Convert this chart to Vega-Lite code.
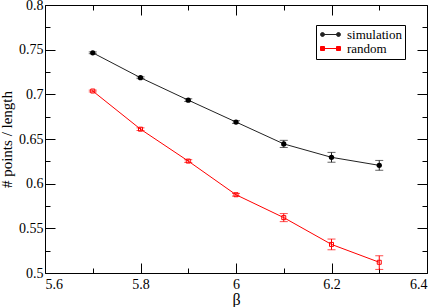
{
  "$schema": "https://vega.github.io/schema/vega-lite/v6.json",
  "width": 382,
  "height": 268,
  "autosize": "none",
  "padding": {"left": 45, "top": 5, "right": 9, "bottom": 34},
  "background": "white",
  "config": {
    "view": {"stroke": "black", "strokeWidth": 1},
    "font": "Liberation Serif",
    "axis": {"domain": false, "grid": false, "labelColor": "black", "tickColor": "black", "titleColor": "black", "titleFontWeight": "normal"}
  },
  "data": {
    "values": [
      {"series": "simulation", "beta": 5.7, "value": 0.7465, "lo": 0.7455, "hi": 0.7475},
      {"series": "simulation", "beta": 5.8, "value": 0.7186, "lo": 0.7176, "hi": 0.7196},
      {"series": "simulation", "beta": 5.9, "value": 0.6935, "lo": 0.692, "hi": 0.695},
      {"series": "simulation", "beta": 6.0, "value": 0.669, "lo": 0.6675, "hi": 0.6705},
      {"series": "simulation", "beta": 6.1, "value": 0.6445, "lo": 0.6405, "hi": 0.6485},
      {"series": "simulation", "beta": 6.2, "value": 0.6295, "lo": 0.624, "hi": 0.635},
      {"series": "simulation", "beta": 6.3, "value": 0.6205, "lo": 0.615, "hi": 0.626},
      {"series": "random", "beta": 5.7, "value": 0.7037, "lo": 0.7027, "hi": 0.7047},
      {"series": "random", "beta": 5.8, "value": 0.661, "lo": 0.6595, "hi": 0.6625},
      {"series": "random", "beta": 5.9, "value": 0.6253, "lo": 0.6238, "hi": 0.6268},
      {"series": "random", "beta": 6.0, "value": 0.5876, "lo": 0.5861, "hi": 0.5891},
      {"series": "random", "beta": 6.1, "value": 0.562, "lo": 0.5575, "hi": 0.5665},
      {"series": "random", "beta": 6.2, "value": 0.532, "lo": 0.526, "hi": 0.538},
      {"series": "random", "beta": 6.3, "value": 0.512, "lo": 0.504, "hi": 0.5193}
    ]
  },
  "resolve": {"axis": {"x": "independent", "y": "independent"}},
  "layer": [
    {
      "mark": {"type": "line", "strokeWidth": 1},
      "encoding": {
        "x": {"field": "beta", "type": "quantitative", "scale": {"domain": [5.6, 6.4], "nice": false, "zero": false},
          "axis": {"orient": "bottom", "title": "β", "titleFont": "Liberation Serif", "titleFontSize": 16, "titlePadding": 0,
            "labelFont": "Liberation Serif", "labelFontSize": 14,
            "values": [5.6, 5.7, 5.8, 5.9, 6.0, 6.1, 6.2, 6.3, 6.4],
            "tickSize": {"condition": {"test": "abs(datum.value*5 - round(datum.value*5)) > 0.1", "value": -5}, "value": -10},
            "labelPadding": 14,
            "labelExpr": "abs(datum.value*5 - round(datum.value*5)) > 0.1 ? '' : format(datum.value, '~g')"}},
        "y": {"field": "value", "type": "quantitative", "scale": {"domain": [0.5, 0.8], "nice": false, "zero": false},
          "axis": {"orient": "left", "title": "# points / length", "titleFont": "Liberation Serif", "titleFontSize": 15, "titlePadding": 4,
            "labelFont": "Liberation Serif", "labelFontSize": 14,
            "values": [0.5, 0.525, 0.55, 0.575, 0.6, 0.625, 0.65, 0.675, 0.7, 0.725, 0.75, 0.775, 0.8],
            "tickSize": {"condition": {"test": "abs(datum.value*20 - round(datum.value*20)) > 0.1", "value": -5}, "value": -10},
            "labelPadding": 12,
            "labelExpr": "abs(datum.value*20 - round(datum.value*20)) > 0.1 ? '' : format(datum.value, '~g')"}},
        "color": {"field": "series", "type": "nominal",
          "scale": {"domain": ["simulation", "random"], "range": ["#222222", "#ff0000"]},
          "legend": {"title": null, "orient": "none", "legendX": 271, "legendY": 20,
            "labelFont": "Liberation Serif", "labelFontSize": 13, "labelColor": "black",
            "strokeColor": "black", "fillColor": "white", "padding": 3, "symbolSize": 100, "symbolStrokeWidth": 1,
            "labelOffset": 15, "rowPadding": 0,
            "encode": {"symbols": {"update": {
              "shape": {"signal": "datum.value === 'simulation' ? 'M-0.6,0H2.6M-1,0a0.4,0.4 0 1,0 0.8,0a0.4,0.4 0 1,0 -0.8,0M2.2,0a0.4,0.4 0 1,0 0.8,0a0.4,0.4 0 1,0 -0.8,0' : 'M-0.2,0H2.2M-1,-0.4h0.8v0.8h-0.8zM2.2,-0.4h0.8v0.8h-0.8z'"},
              "fill": {"signal": "datum.value === 'simulation' ? 'black' : 'transparent'"},
              "stroke": {"signal": "datum.value === 'simulation' ? 'black' : '#ff0000'"}}}}}}
      }
    },
    {
      "mark": {"type": "errorbar", "ticks": {"size": 8}, "thickness": 1},
      "encoding": {
        "x": {"field": "beta", "type": "quantitative", "axis": null},
        "y": {"field": "lo", "type": "quantitative", "axis": null},
        "y2": {"field": "hi"},
        "color": {"field": "series", "type": "nominal"}
      }
    },
    {
      "transform": [{"filter": "datum.series === 'simulation'"}],
      "mark": {"type": "point", "shape": "circle", "filled": true, "size": 28, "color": "black", "opacity": 1},
      "encoding": {
        "x": {"field": "beta", "type": "quantitative",
          "axis": {"orient": "top", "title": null, "labels": false,
            "values": [5.6, 5.7, 5.8, 5.9, 6.0, 6.1, 6.2, 6.3, 6.4],
            "tickSize": {"condition": {"test": "abs(datum.value*5 - round(datum.value*5)) > 0.1", "value": -5}, "value": -10}}},
        "y": {"field": "value", "type": "quantitative",
          "axis": {"orient": "right", "title": null, "labels": false,
            "values": [0.5, 0.525, 0.55, 0.575, 0.6, 0.625, 0.65, 0.675, 0.7, 0.725, 0.75, 0.775, 0.8],
            "tickSize": {"condition": {"test": "abs(datum.value*20 - round(datum.value*20)) > 0.1", "value": -5}, "value": -10}}}
      }
    },
    {
      "transform": [{"filter": "datum.series === 'random'"}],
      "mark": {"type": "point", "shape": "square", "filled": false, "size": 16, "color": "#ff0000", "strokeWidth": 1, "opacity": 1},
      "encoding": {
        "x": {"field": "beta", "type": "quantitative", "axis": null},
        "y": {"field": "value", "type": "quantitative", "axis": null}
      }
    }
  ]
}
